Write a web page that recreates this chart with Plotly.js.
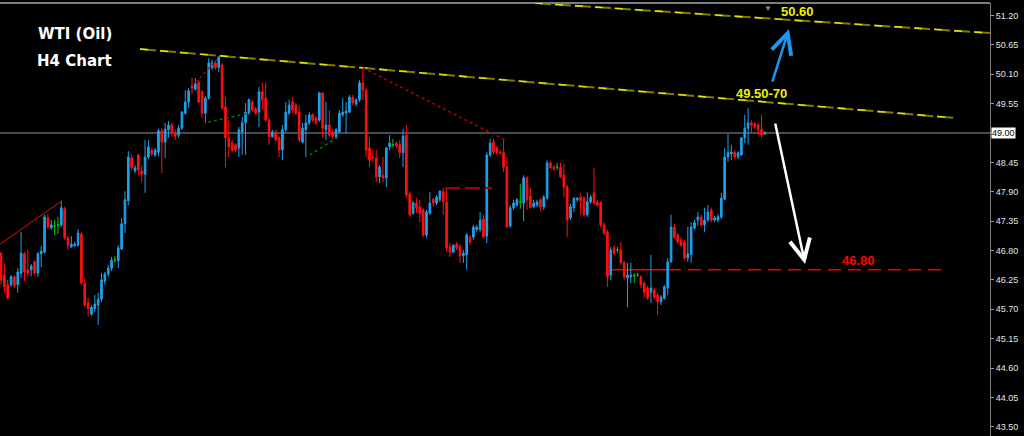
<!DOCTYPE html>
<html><head><meta charset="utf-8">
<script src="https://cdn.plot.ly/plotly-3.0.1.min.js"></script>
<style>html,body{margin:0;padding:0;background:#000;overflow:hidden}#chart{width:1024px;height:436px}</style>
</head><body><div id="chart"></div>
<script>
// ---- data (WTI H4 candles) ----
const openP = [
46.75,46.34,46.16,46.16,46.31,46.16,46.38,46.74,46.44,46.44,
46.59,46.38,46.74,46.77,47.41,47.22,47.26,47.28,47.28,47.58,
47.04,46.87,46.89,46.90,47.11,46.19,45.82,45.61,45.71,45.78,
45.89,46.23,46.36,46.47,46.62,46.61,46.83,47.30,47.73,48.53,
48.29,48.59,48.29,48.23,48.55,48.68,48.59,48.64,49.04,48.83,
49.06,49.15,49.00,48.96,49.09,49.37,49.58,49.88,49.82,49.95,
49.77,49.37,49.65,50.22,50.31,50.23,50.27,49.49,48.91,48.81,
48.78,48.72,49.02,49.19,49.37,49.58,49.45,49.39,49.77,49.65,
49.24,48.93,49.02,48.91,48.68,49.06,49.37,49.58,49.52,49.39,
48.83,49.06,49.19,49.34,49.28,49.24,49.75,49.06,49.15,49.02,
48.93,49.02,49.34,49.37,49.39,49.67,49.54,49.62,49.94,49.80,
48.72,48.55,48.53,48.18,48.21,48.16,48.74,48.78,48.81,48.78,
48.63,48.96,47.86,47.50,47.69,47.62,47.56,47.09,47.50,47.76,
47.69,47.76,47.90,47.71,46.87,46.77,46.92,46.87,46.70,46.72,
47.05,47.05,47.19,47.19,47.39,47.07,48.59,48.83,48.72,48.64,
48.63,48.36,47.26,47.60,47.65,47.71,47.69,48.16,47.82,47.62,
47.65,47.75,47.62,47.78,48.44,48.36,48.36,48.36,48.21,47.99,
47.41,47.60,47.75,47.80,47.78,47.47,47.71,47.88,47.71,47.69,
47.28,47.15,46.34,46.85,46.81,46.81,46.57,46.29,46.31,46.33,
46.34,46.31,46.19,46.10,46.02,46.06,45.97,45.84,45.91,46.10,
46.59,47.24,47.09,47.00,46.96,46.66,46.72,47.22,47.37,47.43,
47.28,47.37,47.56,47.37,47.37,47.43,47.76,48.55,48.61,48.64,
48.55,48.59,48.91,49.09,49.19,49.17,49.15,49.07,48.98];
const highP = [
46.77,46.57,46.25,46.34,46.34,46.47,47.15,46.77,46.81,46.55,
46.62,46.77,46.89,47.47,47.47,47.37,47.37,47.43,47.73,47.62,
47.07,47.07,46.96,47.20,47.15,46.29,45.91,45.78,45.97,46.01,
46.38,46.40,46.53,46.68,46.70,46.90,47.41,47.91,48.66,48.59,
48.40,48.61,48.40,48.87,48.87,48.72,48.72,49.08,49.09,49.19,
49.22,49.19,49.06,49.15,49.41,49.80,49.84,50.03,50.03,49.99,
49.80,49.69,50.40,50.37,50.35,50.44,50.31,49.67,49.24,48.87,
48.81,49.11,49.30,49.56,49.65,49.62,49.49,49.86,49.95,49.95,
49.30,49.06,49.06,48.94,49.15,49.58,49.62,49.67,49.56,49.52,
49.19,49.34,49.39,49.37,49.32,49.77,49.77,49.58,49.43,49.06,
49.09,49.43,49.65,49.58,49.71,49.71,49.65,49.99,50.22,49.84,
48.92,48.68,48.68,48.40,48.55,48.74,48.96,48.89,48.85,48.87,
49.08,49.15,47.91,47.73,47.78,47.75,47.60,47.56,47.89,47.78,
47.84,47.93,47.97,47.99,46.94,46.92,46.96,46.92,46.81,47.13,
47.09,47.28,47.28,47.52,47.47,48.64,48.89,48.89,48.76,48.68,
48.87,48.55,47.65,47.75,47.78,48.05,48.21,48.19,47.97,47.75,
47.75,47.78,47.84,48.49,48.48,48.40,48.44,48.44,48.42,48.03,
47.67,47.80,47.80,47.88,47.82,47.89,47.84,48.35,47.75,47.73,
47.33,47.19,46.87,46.90,46.87,46.96,46.61,46.57,46.57,46.38,
46.38,46.34,46.23,46.14,46.72,46.10,46.01,45.97,46.16,46.66,
47.47,47.30,47.13,47.05,47.00,47.24,47.33,47.37,47.52,47.47,
47.60,47.65,47.60,47.45,47.48,47.88,48.72,48.98,48.78,48.68,
48.66,48.92,49.34,49.47,49.24,49.21,49.19,49.34,49.04];
const lowP = [
46.16,46.01,45.88,46.12,46.10,46.01,46.29,46.23,46.31,46.32,
46.34,46.31,46.49,46.75,47.20,47.19,47.09,47.11,47.24,47.00,
46.81,46.85,46.87,46.87,46.16,45.74,45.56,45.58,45.65,45.41,
45.84,46.16,46.31,46.42,46.57,46.47,46.81,47.13,47.65,48.31,
48.25,48.21,48.08,47.88,48.51,48.57,48.55,48.57,48.25,48.53,
48.91,48.93,48.87,48.91,49.06,49.34,49.47,49.73,49.80,49.56,
49.28,49.19,49.62,50.18,50.18,50.14,49.43,48.36,48.55,48.64,
48.64,48.55,48.59,48.59,49.34,49.39,49.34,49.11,49.43,49.21,
48.78,48.91,48.83,48.55,48.49,49.02,49.34,49.37,49.34,48.83,
48.81,48.55,49.15,49.21,49.15,49.21,48.91,48.87,48.93,48.89,
48.89,49.00,49.30,49.00,49.37,49.52,49.50,49.58,49.62,48.55,
48.36,48.46,48.08,48.06,48.08,47.99,48.68,48.74,48.72,48.53,
48.36,47.78,47.43,47.47,47.50,47.33,47.05,47.04,47.47,47.62,
47.65,47.71,47.47,46.77,46.68,46.75,46.81,46.57,46.57,46.44,
46.90,47.00,47.15,47.15,47.04,46.94,48.55,48.59,48.59,48.59,
48.27,47.22,47.22,47.56,47.62,47.58,47.35,47.56,47.59,47.59,
47.62,47.54,47.56,47.75,48.33,48.29,48.31,48.16,47.80,47.05,
47.37,47.52,47.71,47.47,47.43,47.43,47.67,47.65,47.62,47.24,
47.09,46.12,46.25,46.72,46.75,46.53,46.25,45.74,46.19,46.19,
46.31,46.10,45.91,45.88,45.82,45.88,45.59,45.78,45.88,45.97,
46.57,47.02,46.92,46.87,46.62,46.59,46.57,47.19,47.26,47.24,
47.15,47.33,47.33,47.33,47.33,47.39,47.75,48.46,48.49,48.51,
48.51,48.57,48.81,48.78,49.00,49.07,48.96,48.91,48.96];
const closeP = [
46.25,46.12,45.91,46.31,46.14,46.40,46.75,46.40,46.38,46.51,
46.38,46.74,46.79,47.43,47.24,47.28,47.26,47.28,47.60,47.04,
46.90,46.92,46.92,47.13,46.19,45.78,45.71,45.74,45.80,45.89,
46.25,46.36,46.47,46.62,46.62,46.85,47.30,47.75,48.55,48.35,
48.35,48.31,48.23,48.55,48.74,48.61,48.68,49.04,48.83,49.07,
49.15,49.00,48.94,49.09,49.39,49.58,49.79,49.84,49.92,49.58,
49.37,49.65,50.31,50.31,50.22,50.42,49.47,48.91,48.74,48.68,
48.68,49.06,49.19,49.39,49.62,49.43,49.37,49.77,49.62,49.24,
48.93,49.02,48.87,48.68,49.06,49.39,49.52,49.43,49.37,48.87,
49.09,49.19,49.34,49.24,49.19,49.75,49.09,49.15,48.96,48.93,
49.06,49.37,49.39,49.41,49.67,49.56,49.62,49.94,49.80,48.68,
48.49,48.53,48.18,48.36,48.16,48.72,48.81,48.78,48.76,48.63,
48.94,47.84,47.47,47.69,47.60,47.50,47.09,47.52,47.69,47.69,
47.80,47.91,47.71,46.85,46.77,46.90,46.85,46.70,46.75,47.09,
46.96,47.24,47.24,47.37,47.05,48.59,48.81,48.64,48.63,48.63,
48.36,47.24,47.60,47.69,47.75,47.71,48.16,47.75,47.60,47.69,
47.71,47.62,47.80,48.44,48.35,48.33,48.36,48.18,47.99,47.37,
47.62,47.78,47.78,47.73,47.47,47.71,47.80,47.69,47.65,47.28,
47.13,46.31,46.81,46.75,46.81,46.57,46.31,46.34,46.34,46.33,
46.34,46.16,46.02,45.91,46.10,45.93,45.84,45.93,46.12,46.59,
47.24,47.05,46.96,46.90,46.66,46.74,47.24,47.32,47.43,47.28,
47.37,47.52,47.37,47.41,47.43,47.78,48.55,48.63,48.64,48.55,
48.63,48.91,49.09,49.19,49.15,49.11,49.06,48.96,49.00];
const yTicks = [43.50,44.05,44.60,45.15,45.70,46.25,46.80,47.35,47.90,48.45,49.00,49.55,50.10,50.65,51.20];
const lastPrice = 49.00;
const titleLines = ["WTI (Oil)", "H4 Chart"];
const labelUp = "50.60", labelRes = "49.50-70", labelDown = "46.80";
const supportPrice = 46.44;      // red dashed support line
const boxLinePrice = 47.97;      // short dark-red dashed line

// ---- build ----
const BLUE = '#1fa0ea', RED = '#ff1010', GREEN = '#00d000';
const idx = openP.map((_, i) => i);
function pick(arr, cond) { return idx.filter(cond).map(i => arr[i]); }
const isDoji = i => openP[i] === closeP[i];
const notDoji = i => !isDoji(i);

const main = {
  type: 'candlestick', x: idx.filter(notDoji),
  open: pick(openP, notDoji), high: pick(highP, notDoji), low: pick(lowP, notDoji), close: pick(closeP, notDoji),
  increasing: {line: {color: BLUE, width: 1}, fillcolor: BLUE},
  decreasing: {line: {color: RED, width: 1}, fillcolor: RED},
  whiskerwidth: 0, hoverinfo: 'skip', showlegend: false
};
const doji = {
  type: 'candlestick', x: idx.filter(isDoji),
  open: pick(openP, isDoji), high: pick(highP, isDoji), low: pick(lowP, isDoji), close: pick(closeP, isDoji),
  increasing: {line: {color: GREEN, width: 1}, fillcolor: GREEN},
  decreasing: {line: {color: GREEN, width: 1}, fillcolor: GREEN},
  whiskerwidth: 0, hoverinfo: 'skip', showlegend: false
};

function seg(x0, y0, x1, y1, color, width, dash, layer) {
  return {type: 'line', xref: 'x', yref: 'y', x0, y0, x1, y1, layer: layer || 'above',
          line: {color, width, dash: dash || 'solid'}};
}
const shapes = [
  {type: 'line', xref: 'paper', yref: 'y', x0: 0, x1: 1, y0: lastPrice, y1: lastPrice, layer: 'below', line: {color: '#8797a8', width: 1}},
  {type: 'line', xref: 'paper', yref: 'paper', x0: 0, x1: 1, y0: 1, y1: 1, line: {color: '#7c7c7c', width: 2}},
  // yellow channel lines (olive base + yellow dashes)
  seg(41.5, 50.57, 284.8, 49.28, '#7d7d00', 2, '16px,4px'),
  seg(41.5, 50.57, 284.8, 49.28, '#e6e600', 1.4, '8px,12px'),
  seg(159.4, 51.43, 295.2, 50.87, '#7d7d00', 2, '16px,4px'),
  seg(159.4, 51.43, 295.2, 50.87, '#e6e600', 1.4, '8px,12px'),
  // red trend lines
  seg(-0.3, 46.92, 18.2, 47.73, '#a00c0c', 1.2),
  seg(58, 49.94, 64.5, 50.38, '#a00c0c', 1.3, 'dot'),
  seg(108, 50.22, 150.4, 48.87, '#b00000', 1.5, 'dot'),
  // green dotted
  seg(61.8, 49.205, 74.3, 49.374, '#007a00', 1.5, 'dot'),
  seg(92.2, 48.588, 100.6, 48.925, '#007a00', 1.5, 'dot'),
  // short dark-red dashed level
  seg(132.5, boxLinePrice, 146.6, boxLinePrice, '#a00000', 2, '15px,5px'),
  // support dashed line
  seg(182.4, supportPrice, 199.1, supportPrice, '#ee0000', 1.6, 'solid', 'below'),
  seg(199.1, supportPrice, 281.2, supportPrice, '#ee0000', 1.6, '13px,7px', 'below')
];

const lblFont = {family: 'Liberation Sans, Arial, sans-serif', size: 13, color: '#f0f000'};
const titleFont = {family: 'DejaVu Sans, sans-serif', size: 15, color: '#ffffff'};
const annotations = [
  {xref: 'paper', yref: 'paper', x: 0.0758, y: 0.928, xanchor: 'center', yanchor: 'middle',
   text: '<b>' + titleLines[0] + '</b>', showarrow: false, font: titleFont},
  {xref: 'paper', yref: 'paper', x: 0.0753, y: 0.865, xanchor: 'center', yanchor: 'middle',
   text: '<b>' + titleLines[1] + '</b>', showarrow: false, font: titleFont},
  {xref: 'x', yref: 'y', x: 237.8, y: 51.273, xanchor: 'center', yanchor: 'middle',
   text: '<b>' + labelUp + '</b>', showarrow: false, font: lblFont},
  {xref: 'x', yref: 'y', x: 227.0, y: 49.748, xanchor: 'center', yanchor: 'middle',
   text: '<b>' + labelRes + '</b>', showarrow: false, font: lblFont},
  {xref: 'x', yref: 'y', x: 256.0, y: 46.605, xanchor: 'center', yanchor: 'middle',
   text: '<b>' + labelDown + '</b>', showarrow: false,
   font: {family: 'Liberation Sans, Arial, sans-serif', size: 13, color: '#ff0000'}},
  // arrows
  {xref: 'x', yref: 'y', axref: 'x', ayref: 'y', x: 240.0, y: 46.55, ax: 231.0, ay: 49.205, text: '',
   showarrow: true, arrowhead: 5, arrowsize: 1.6, arrowwidth: 2.5, arrowcolor: '#ffffff'},
  {xref: 'x', yref: 'y', axref: 'x', ayref: 'y', x: 235.2, y: 50.945, ax: 230.1, ay: 49.935, text: '',
   showarrow: true, arrowhead: 5, arrowsize: 1.6, arrowwidth: 2.5, arrowcolor: '#1e96f0'},
  // chart-shift marker
  {xref: 'x', yref: 'paper', x: 229, y: 1.006, yanchor: 'top', text: '▼', showarrow: false,
   font: {size: 8, color: '#8c8c8c'}},
  // last price box
  {xref: 'paper', yref: 'y', x: 1, y: lastPrice, xanchor: 'left', yanchor: 'middle', xshift: 1,
   text: lastPrice.toFixed(2), showarrow: false,
   bgcolor: '#ffffff', borderpad: 0, font: {family: 'Liberation Sans, Arial, sans-serif', size: 9, color: '#000000'}}
];

const layout = {
  width: 1024, height: 436,
  paper_bgcolor: '#000000', plot_bgcolor: '#000000',
  margin: {l: 0, r: 34, t: 3, b: 0},
  showlegend: false,
  xaxis: {range: [-0.3, 295.2], showgrid: false, zeroline: false, showticklabels: false, ticks: '',
          rangeslider: {visible: false}, showline: false, fixedrange: true},
  yaxis: {side: 'right', range: [43.33, 51.432], tickvals: yTicks,
          // the 49.00 tick is carried by the last-price box
          ticktext: yTicks.map(v => v === lastPrice ? '' : v.toFixed(2)),
          showgrid: false, zeroline: false, ticks: 'outside', ticklen: 3, tickcolor: '#a0a0a0',
          tickfont: {family: 'Liberation Sans, Arial, sans-serif', size: 9, color: '#e4e4e4'},
          showline: true, linecolor: '#7c7c7c', linewidth: 1, fixedrange: true},
  shapes, annotations
};
Plotly.newPlot('chart', [main, doji], layout, {staticPlot: true, displayModeBar: false});
</script>
</body></html>
